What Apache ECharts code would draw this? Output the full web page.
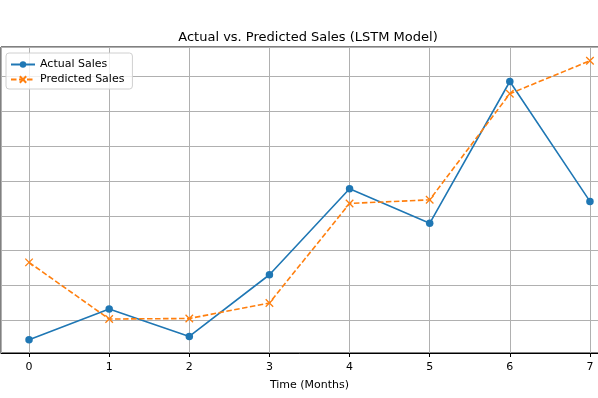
<!DOCTYPE html>
<html>
<head>
<meta charset="utf-8">
<script src="https://cdn.jsdelivr.net/npm/echarts@6/dist/echarts.min.js"></script>
<style>
  html, body { margin: 0; padding: 0; background: #fff; }
  #chart { width: 598px; height: 398px; }
</style>
</head>
<body>
<div id="chart"></div>
<script>
// months on the x axis
const months = [0, 1, 2, 3, 4, 5, 6, 7]
// sales values (y labels are cut off, units arbitrary)
const actualSales = [88.9, 106.5, 90.8, 126.2, 175.6, 155.7, 237.1, 168.3]
const predictedSales = [133.3, 100.8, 101.1, 110.0, 167.1, 169.2, 230.1, 249.0]

const blue = '#1f77b4'
const orange = '#ff7f0e'
const font = 'DejaVu Sans'

const chart = echarts.init(document.getElementById('chart'), null, { renderer: 'canvas' })

chart.setOption({
  animation: false,
  backgroundColor: '#fff',
  title: {
    text: 'Actual vs. Predicted Sales (LSTM Model)',
    left: 303,
    top: 26,
    textAlign: 'center',
    textStyle: { fontFamily: font, fontSize: 13, fontWeight: 'normal', color: '#000' }
  },
  legend: {
    orient: 'vertical',
    left: 6,
    top: 53,
    padding: [6, 8, 4, 4],
    itemGap: 4,
    itemWidth: 24,
    itemHeight: 8,
    borderColor: '#d0d0d0',
    borderWidth: 1,
    borderRadius: 3,
    backgroundColor: 'rgba(255,255,255,0.8)',
    textStyle: { fontFamily: font, fontSize: 11, color: '#000' },
    data: ['Actual Sales', 'Predicted Sales']
  },
  grid: {
    left: 1,
    top: 47,
    width: 617,
    height: 306,
    outerBoundsMode: 'none',
    containLabel: false,
    show: true,
    borderColor: '#000',
    borderWidth: 1
  },
  xAxis: {
    type: 'value',
    min: -0.35,
    max: 7.35,
    minInterval: 1,
    maxInterval: 1,
    name: 'Time (Months)',
    nameLocation: 'middle',
    nameGap: 27,
    nameTextStyle: { fontFamily: font, fontSize: 11, color: '#000' },
    axisLine: { lineStyle: { color: '#000', width: 1 } },
    axisTick: { length: 4, lineStyle: { color: '#000' } },
    axisLabel: {
      fontFamily: font,
      fontSize: 11,
      color: '#000',
      margin: 9,
      showMinLabel: false,
      showMaxLabel: false
    },
    splitLine: { show: true, lineStyle: { color: '#b0b0b0', width: 1 } }
  },
  yAxis: {
    type: 'value',
    min: 81.3,
    max: 256.9,
    splitNumber: 9,
    minInterval: 20,
    maxInterval: 20,
    axisLine: { show: false },
    axisTick: { show: false },
    axisLabel: { show: false },
    splitLine: { show: true, lineStyle: { color: '#b0b0b0', width: 1 } }
  },
  series: [
    {
      name: 'Actual Sales',
      type: 'line',
      data: months.map((m, i) => [m, actualSales[i]]),
      symbol: 'circle',
      symbolSize: 7.5,
      showAllSymbol: true,
      color: blue,
      lineStyle: { color: blue, width: 1.6 },
      itemStyle: { color: blue }
    },
    {
      name: 'Predicted Sales',
      type: 'line',
      data: months.map((m, i) => [m, predictedSales[i]]),
      symbol: 'path://M0,0 L10,10 M10,0 L0,10',
      symbolSize: 7.5,
      showAllSymbol: true,
      color: orange,
      lineStyle: { color: orange, width: 1.6, type: [5.5, 2.5] },
      itemStyle: { color: orange, borderColor: orange, borderWidth: 1.3 }
    }
  ]
})
</script>
</body>
</html>
